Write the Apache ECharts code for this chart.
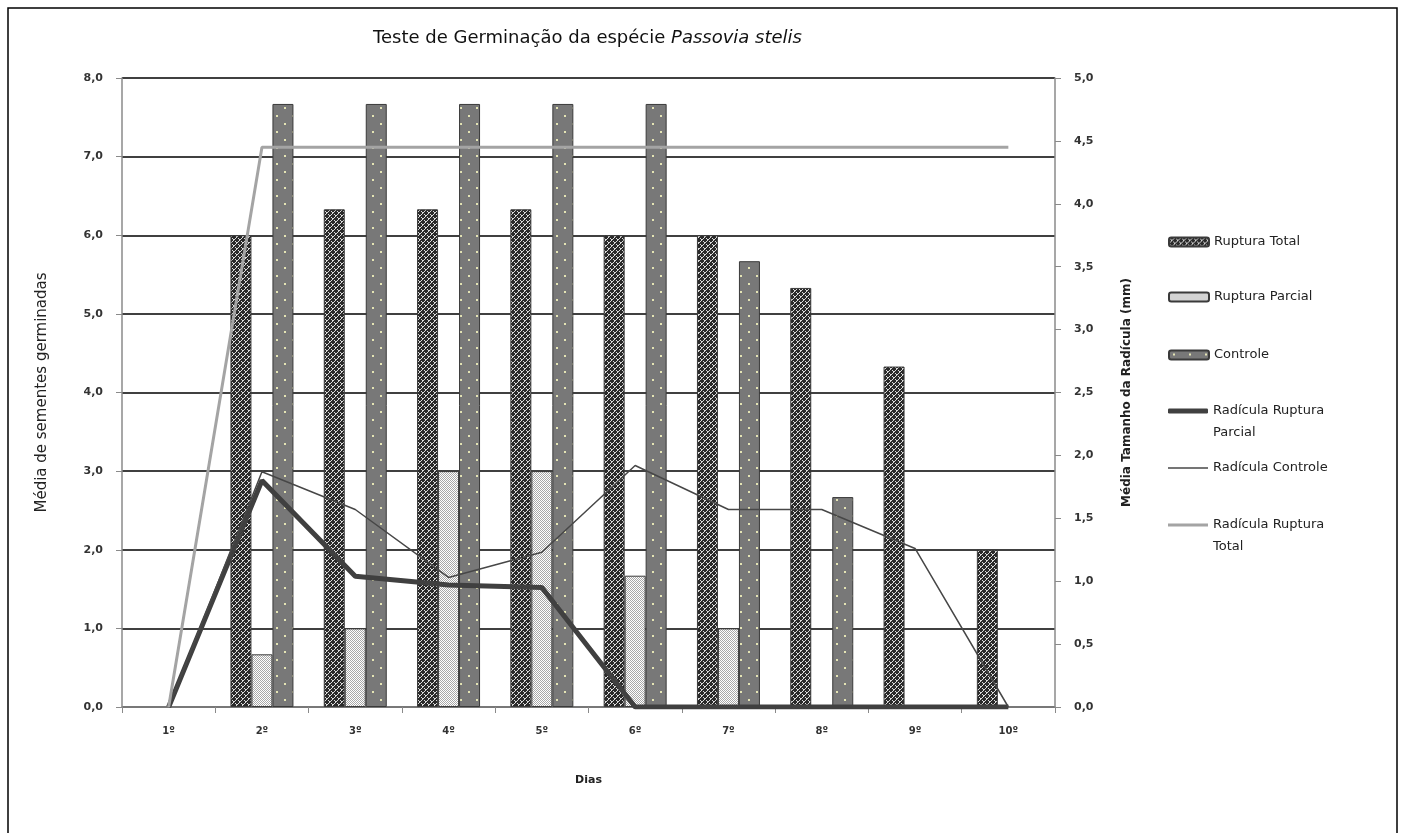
<!DOCTYPE html>
<html><head><meta charset="utf-8">
<script src="https://cdn.jsdelivr.net/npm/echarts@6/dist/echarts.min.js"></script>
<style>html,body{margin:0;padding:0;background:#fff}#c{width:1403px;height:833px}</style>
</head><body><div id="c"></div>
<script>
// ---- data ----
const categories = ['1º','2º','3º','4º','5º','6º','7º','8º','9º','10º'];
const rupturaTotal   = [0, 6.00, 6.33, 6.33, 6.33, 6.00, 6.00, 5.33, 4.33, 2.00];
const rupturaParcial = [0, 0.67, 1.00, 3.00, 3.00, 1.67, 1.00, 0, 0, 0];
const controle       = [0, 7.67, 7.67, 7.67, 7.67, 7.67, 5.67, 2.67, 0, 0];
const radiculaRupturaParcial = [0, 1.80, 1.04, 0.97, 0.95, 0, 0, 0, 0, 0];
const radiculaControle       = [0, 1.87, 1.57, 1.03, 1.23, 1.92, 1.57, 1.57, 1.26, 0];
const radiculaRupturaTotal   = [0, 4.45, 4.45, 4.45, 4.45, 4.45, 4.45, 4.45, 4.45, 4.45];
const seriesNames = ['Ruptura Total','Ruptura Parcial','Controle','Radícula Ruptura Parcial','Radícula Controle','Radícula Ruptura Total'];

// ---- patterns ----
function pat(w,h,draw){const c=document.createElement('canvas');c.width=w;c.height=h;const g=c.getContext('2d');draw(g);return c;}
const patTotal = pat(6,6,g=>{g.fillStyle='#2a2a2a';g.fillRect(0,0,6,6);g.fillStyle='#dcdcdc';
  for(let i=0;i<6;i++){g.fillRect(i,i,1,1);g.fillRect(5-i,i,1,1);} g.fillStyle='#2a2a2a';g.fillRect(0,0,1,1);g.fillRect(3,3,1,1);});
const patParcial = pat(2,2,g=>{g.fillStyle='#ffffff';g.fillRect(0,0,2,2);g.fillStyle='#a8a8a8';g.fillRect(0,0,1,1);g.fillRect(1,1,1,1);});
const patControle = pat(16,16,g=>{g.fillStyle='#787878';g.fillRect(0,0,16,16);g.fillStyle='#e4e4b4';g.fillRect(4,3,2,2);g.fillRect(12,11,2,2);});

const FONT = 'DejaVu Sans';
const fmt = v => v.toFixed(1).replace('.', ',');
const noZero = arr => arr.map(v => v === 0 ? '-' : v);
const chart = echarts.init(document.getElementById('c'));

function legendAt(name, top, opts){
  const l = {show:true, data:[name], orient:'vertical', left:1168, top:top, padding:0,
    itemWidth:40, itemHeight:9, itemGap:0,
    textStyle:{fontFamily:FONT, fontSize:13, color:'#222', lineHeight:22}};
  return Object.assign(l, opts || {});
}
const twoLine = n => '\u3000\n' + n.replace(/ (\S+)$/, '\n$1');

const barBase = {type:'bar', barWidth:21, barGap:'0%', yAxisIndex:0};
chart.setOption({
  animation:false,
  backgroundColor:'#fff',
  textStyle:{fontFamily:FONT},
  title:{left:368, top:24, text:'{a|Teste de Germinação da espécie }{b|Passovia stelis}',
    textStyle:{fontWeight:'normal', rich:{a:{fontFamily:FONT,fontSize:18,fontWeight:'normal',color:'#111'},b:{fontFamily:FONT,fontSize:18,fontWeight:'normal',fontStyle:'italic',color:'#111'}}}},
  graphic:[{type:'rect', shape:{x:8,y:8,width:1389,height:850}, style:{fill:'none', stroke:'#000', lineWidth:1.5}, silent:true}],
  legend:[
    legendAt(seriesNames[0], 231),
    legendAt(seriesNames[1], 286),
    legendAt(seriesNames[2], 344),
    legendAt(seriesNames[3], 378, {formatter:twoLine, icon:'roundRect', itemHeight:5}),
    legendAt(seriesNames[4], 457, {icon:'rect', itemHeight:1.5}),
    legendAt(seriesNames[5], 492, {formatter:twoLine, icon:'rect', itemHeight:3})
  ],
  grid:{left:122, right:348, top:78, bottom:126},
  xAxis:{type:'category', data:categories, boundaryGap:true,
    axisLine:{lineStyle:{color:'#8a8a8a', width:1.5}},
    axisTick:{show:true, inside:false, length:6, lineStyle:{color:'#8a8a8a'}},
    axisLabel:{margin:19, fontSize:10, fontWeight:'bold', color:'#333'},
    name:'Dias', nameLocation:'middle', nameGap:68,
    nameTextStyle:{fontSize:11, fontWeight:'bold', color:'#222'}},
  yAxis:[
    {type:'value', min:0, max:8, interval:1, position:'left',
     axisLine:{show:true, lineStyle:{color:'#8a8a8a', width:1.5}},
     axisTick:{show:true, inside:false, length:6, lineStyle:{color:'#8a8a8a'}},
     splitLine:{show:true, lineStyle:{color:'#000', width:1.5}},
     axisLabel:{margin:19, fontSize:11, fontWeight:'bold', color:'#333', formatter:fmt},
     name:'Média de sementes germinadas', nameLocation:'middle', nameGap:72, nameRotate:90,
     nameTextStyle:{fontSize:15, color:'#222'}},
    {type:'value', min:0, max:5, interval:0.5, position:'right',
     axisLine:{show:true, lineStyle:{color:'#8a8a8a', width:1.5}},
     axisTick:{show:true, inside:false, length:6, lineStyle:{color:'#8a8a8a'}},
     splitLine:{show:false},
     axisLabel:{margin:19, fontSize:11, fontWeight:'bold', color:'#333', formatter:fmt},
     name:'Média Tamanho da Radícula (mm)', nameLocation:'middle', nameGap:66, nameRotate:90,
     nameTextStyle:{fontSize:12, fontWeight:'bold', color:'#222'}}
  ],
  series:[
    Object.assign({}, barBase, {name:seriesNames[0], data:noZero(rupturaTotal),
      itemStyle:{color:{image:patTotal, repeat:'repeat'}, borderColor:'#3a3a3a', borderWidth:1}}),
    Object.assign({}, barBase, {name:seriesNames[1], data:noZero(rupturaParcial),
      itemStyle:{color:{image:patParcial, repeat:'repeat'}, borderColor:'#3a3a3a', borderWidth:1}}),
    Object.assign({}, barBase, {name:seriesNames[2], data:noZero(controle),
      itemStyle:{color:{image:patControle, repeat:'repeat'}, borderColor:'#3a3a3a', borderWidth:1}}),
    {type:'line', name:seriesNames[3], yAxisIndex:1, data:radiculaRupturaParcial, symbol:'none', z:5,
      lineStyle:{color:'#404040', width:5}, itemStyle:{color:'#404040'}},
    {type:'line', name:seriesNames[4], yAxisIndex:1, data:radiculaControle, symbol:'none', z:5,
      lineStyle:{color:'#474747', width:1.5}, itemStyle:{color:'#474747'}},
    {type:'line', name:seriesNames[5], yAxisIndex:1, data:radiculaRupturaTotal, symbol:'none', z:5,
      lineStyle:{color:'#a4a4a4', width:3}, itemStyle:{color:'#a4a4a4'}}
  ]
});
</script></body></html>
